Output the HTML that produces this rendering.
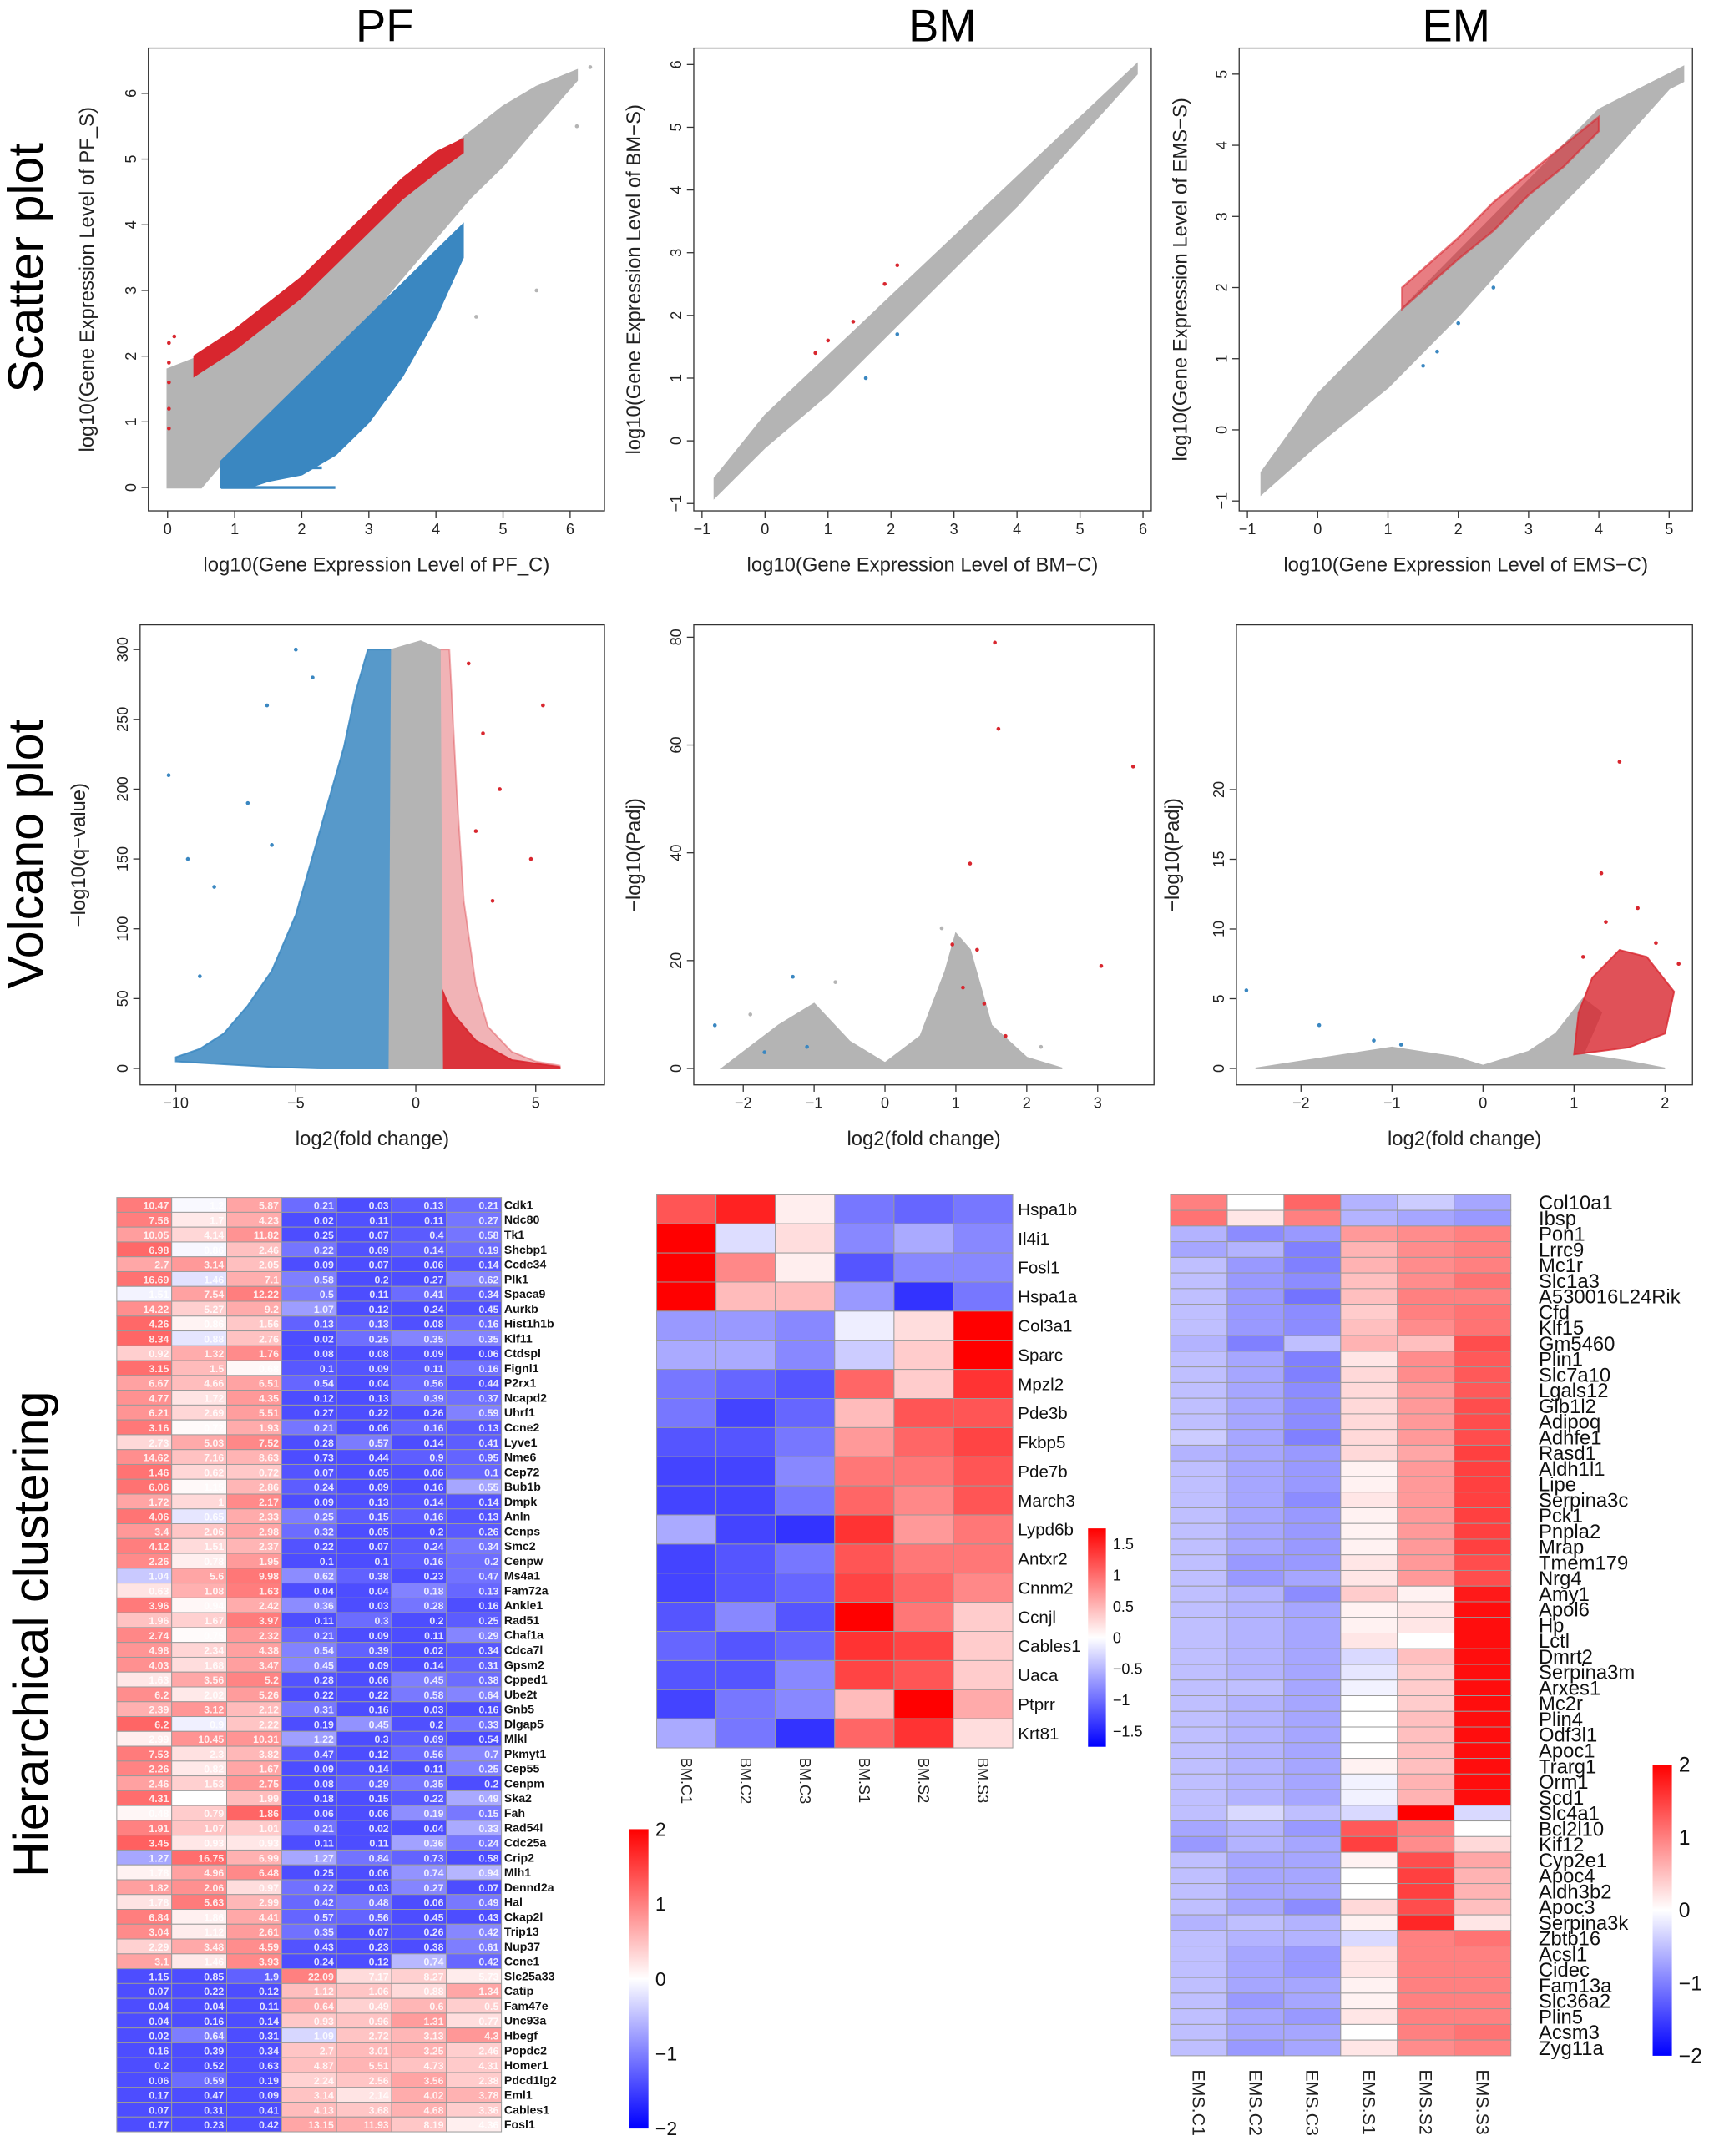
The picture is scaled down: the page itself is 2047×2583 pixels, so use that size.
<!DOCTYPE html>
<html><head><meta charset="utf-8"><title>Gene expression figure</title>
<style>
html,body{margin:0;padding:0;background:#fff;}
svg{display:block;font-family:"Liberation Sans",Arial,sans-serif;}
</style></head>
<body>
<svg id="fig" xmlns="http://www.w3.org/2000/svg" width="2047" height="2583" viewBox="0 0 1244 1570" preserveAspectRatio="none">
<text x="280" y="30" font-size="33" text-anchor="middle">PF</text>
<text x="686" y="30" font-size="33" text-anchor="middle">BM</text>
<text x="1060" y="30" font-size="33" text-anchor="middle">EM</text>
<text transform="translate(31,195) rotate(-90)" font-size="36" text-anchor="middle">Scatter plot</text>
<text transform="translate(31,622) rotate(-90)" font-size="36" text-anchor="middle">Volcano plot</text>
<text transform="translate(35,1190) rotate(-90)" font-size="36" text-anchor="middle">Hierarchical clustering</text>
<g id="root"></g>
</svg>
<script>
// ---------- DATA: scatter plots ----------
const pfScX=[0,0.5,1,1.5,2,2.5,3,3.5,4,4.5,5,5.5,6.1];
const pfScGrayHi=[1.8,2.0,2.3,2.7,3.1,3.6,4.1,4.6,5.0,5.4,5.8,6.1,6.35];
const pfScGrayLo=[0,0,0.6,1.0,1.5,2.0,2.6,3.2,3.8,4.4,4.9,5.5,6.2];
const pfScRedX=[0.4,1,1.5,2,2.5,3,3.5,4,4.4];
const pfScRedHi=[2.0,2.4,2.8,3.2,3.7,4.2,4.7,5.1,5.3];
const pfScRedLo=[1.7,2.1,2.5,2.9,3.4,3.9,4.4,4.8,5.1];
const pfScBlueX=[0.8,1.2,1.5,2,2.5,3,3.5,4,4.4];
const pfScBlueHi=[0.4,0.8,1.1,1.6,2.1,2.6,3.1,3.6,4.0];
const pfScBlueLo=[0,0,0.1,0.2,0.5,1.0,1.7,2.6,3.5];
const pfScBlueStripY=[0,0.3];
const pfScBlueStripX0=[0.8,1.0];
const pfScBlueStripX1=[2.5,2.3];
const pfScRedPts=[[0.02,2.2],[0.02,1.9],[0.02,1.6],[0.02,1.2],[0.02,0.9],[0.1,2.3]];
const pfScGrayPts=[[6.3,6.4],[5.5,3.0],[4.6,2.6],[6.1,5.5],[0.05,0.05]];

const bmScX=[-0.8,0,1,2,3,4,5,5.9];
const bmScHi=[-0.6,0.4,1.35,2.3,3.25,4.2,5.15,6.0];
const bmScLo=[-0.9,-0.1,0.75,1.75,2.75,3.75,4.85,5.85];
const bmScRedPts=[[1.0,1.6],[1.4,1.9],[1.9,2.5],[2.1,2.8],[0.8,1.4]];
const bmScBluePts=[[1.6,1.0],[2.1,1.7]];

const emScX=[-0.8,0,1,2,3,4,5,5.2];
const emScHi=[-0.6,0.5,1.5,2.5,3.5,4.5,5.0,5.1];
const emScLo=[-0.9,-0.2,0.6,1.6,2.7,3.7,4.8,4.9];
const emScRedX=[1.2,2,2.5,3,3.5,4];
const emScRedHi=[2.0,2.7,3.2,3.6,4.0,4.4];
const emScRedLo=[1.7,2.4,2.8,3.3,3.7,4.2];
const emScBluePts=[[1.5,0.9],[2,1.5],[2.5,2.0],[1.7,1.1]];

// ---------- DATA: volcano plots ----------
const pfVoBlue=[[-1,300],[-2,300],[-2.5,270],[-3,230],[-4,170],[-5,110],[-6,70],[-7,45],[-8,25],[-9,14],[-10,8],[-10,5],[-8,3],[-6,1],[-4,0],[-1,0]];
const pfVoGray=[[-1.1,0],[-1,300],[0.2,306],[1,300],[1.1,0]];
const pfVoRed=[[1,0],[1,300],[1.4,300],[1.7,200],[2,120],[2.5,60],[3,30],[4,12],[5,5],[6,2],[6,0]];
const pfVoRedDense=[[1,0],[1,60],[1.5,40],[2.5,20],[4,6],[6,1],[6,0]];
const pfVoBluePts=[[-10.3,210],[-9.5,150],[-8.4,130],[-7,190],[-6.2,260],[-5,300],[-4.3,280],[-9,66],[-6,160]];
const pfVoRedPts=[[2.2,290],[2.8,240],[3.5,200],[4.8,150],[5.3,260],[2.5,170],[3.2,120]];

const bmVoGray=[[-2.3,0],[-1.5,8],[-1,12],[-0.5,5],[0,1],[0.5,6],[0.85,18],[1,25],[1.2,22],[1.5,8],[2,2],[2.5,0]];
const bmVoRedPts=[[1.55,79],[1.6,63],[3.5,56],[1.2,38],[3.05,19],[1.3,22],[0.95,23],[1.1,15],[1.4,12],[1.7,6]];
const bmVoBluePts=[[-1.3,17],[-2.4,8],[-1.7,3],[-1.1,4]];
const bmVoGrayPts=[[-0.7,16],[-1.9,10],[2.2,4],[0.8,26]];

const emVoGray=[[-2.5,0],[-2,0.5],[-1,1.5],[-0.3,0.8],[0,0.2],[0.5,1.2],[0.8,2.5],[1.1,5],[1.3,4],[1.1,1],[1.6,0.5],[2,0]];
const emVoRed=[[1,1],[1.05,4],[1.2,6.5],[1.5,8.5],[1.8,8],[2.1,5.5],[2.0,2.5],[1.6,1.5]];
const emVoRedPts=[[1.5,22],[1.3,14],[1.35,10.5],[1.7,11.5],[1.9,9],[2.15,7.5],[1.1,8]];
const emVoBluePts=[[-2.6,5.6],[-1.8,3.1],[-1.2,2],[-0.9,1.7]];

// ---------- DATA: PF heatmap ----------
const pfGenes=["Cdk1","Ndc80","Tk1","Shcbp1","Ccdc34","Plk1","Spaca9","Aurkb","Hist1h1b","Kif11","Ctdspl","Fignl1","P2rx1","Ncapd2","Uhrf1","Ccne2","Lyve1","Nme6","Cep72","Bub1b","Dmpk","Anln","Cenps","Smc2","Cenpw","Ms4a1","Fam72a","Ankle1","Rad51","Chaf1a","Cdca7l","Gpsm2","Cpped1","Ube2t","Gnb5","Dlgap5","Mlkl","Pkmyt1","Cep55","Cenpm","Ska2","Fah","Rad54l","Cdc25a","Crip2","Mlh1","Dennd2a","Hal","Ckap2l","Trip13","Nup37","Ccne1","Slc25a33","Catip","Fam47e","Unc93a","Hbegf","Popdc2","Homer1","Pdcd1lg2","Eml1","Cables1","Fosl1"];
const pfValues=[
[10.47,1.2,5.87,0.21,0.03,0.13,0.21],[7.56,1.7,4.23,0.02,0.11,0.11,0.27],[10.05,4.14,11.82,0.25,0.07,0.4,0.58],[6.98,0.86,2.46,0.22,0.09,0.14,0.19],[2.7,3.14,2.05,0.09,0.07,0.06,0.14],[16.69,1.46,7.1,0.58,0.2,0.27,0.62],[1.51,7.54,12.22,0.5,0.11,0.41,0.34],[14.22,5.27,9.2,1.07,0.12,0.24,0.45],[4.26,0.86,1.56,0.13,0.13,0.08,0.16],[8.34,0.88,2.76,0.02,0.25,0.35,0.35],
[0.92,1.32,1.76,0.08,0.08,0.09,0.06],[3.15,1.5,0.68,0.1,0.09,0.11,0.16],[6.67,4.66,6.51,0.54,0.04,0.56,0.44],[4.77,1.72,4.35,0.12,0.13,0.39,0.37],[6.21,2.69,5.51,0.27,0.22,0.26,0.59],[3.16,0.72,1.93,0.21,0.06,0.16,0.13],[2.73,5.03,7.52,0.28,0.57,0.14,0.41],[14.62,7.16,8.63,0.73,0.44,0.9,0.95],[1.46,0.62,0.72,0.07,0.05,0.06,0.1],[6.06,1.15,2.86,0.24,0.09,0.16,0.55],
[1.72,1,2.17,0.09,0.13,0.14,0.14],[4.06,0.65,2.33,0.25,0.15,0.16,0.13],[3.4,2.06,2.98,0.32,0.05,0.2,0.26],[4.12,1.51,2.37,0.22,0.07,0.24,0.34],[2.26,0.78,1.95,0.1,0.1,0.16,0.2],[1.04,5.6,9.98,0.62,0.38,0.23,0.47],[0.63,1.08,1.63,0.04,0.04,0.18,0.13],[3.96,0.94,2.42,0.36,0.03,0.28,0.16],[1.96,1.67,3.97,0.11,0.3,0.2,0.25],[2.74,0.75,2.32,0.21,0.09,0.11,0.29],
[4.98,2.34,4.38,0.54,0.39,0.02,0.34],[4.03,1.68,3.47,0.45,0.09,0.14,0.31],[1.63,3.56,5.2,0.28,0.06,0.45,0.38],[6.2,2.02,5.26,0.22,0.22,0.58,0.64],[2.39,3.12,2.12,0.31,0.16,0.03,0.16],[6.2,0.9,2.22,0.19,0.45,0.2,0.33],[2.99,10.45,10.31,1.22,0.3,0.69,0.54],[7.53,2.3,3.82,0.47,0.12,0.56,0.7],[2.26,0.82,1.67,0.09,0.14,0.11,0.25],[2.46,1.53,2.75,0.08,0.29,0.35,0.2],
[4.31,0.85,1.99,0.18,0.15,0.22,0.49],[0.48,0.79,1.86,0.06,0.06,0.19,0.15],[1.91,1.07,1.01,0.21,0.02,0.04,0.33],[3.45,0.93,0.93,0.11,0.11,0.36,0.24],[1.27,16.75,6.99,1.27,0.84,0.73,0.58],[1.78,4.96,6.48,0.25,0.06,0.74,0.94],[1.82,2.06,0.97,0.22,0.03,0.27,0.07],[1.78,5.63,2.99,0.42,0.48,0.06,0.49],[6.84,1.86,4.41,0.57,0.56,0.45,0.43],[3.04,1.12,2.61,0.35,0.07,0.26,0.42],
[2.29,3.48,4.59,0.43,0.23,0.38,0.61],[3.1,1.46,3.93,0.24,0.12,0.74,0.42],[1.15,0.85,1.9,22.09,7.17,8.27,5.73],[0.07,0.22,0.12,1.12,1.06,0.88,1.34],[0.04,0.04,0.11,0.64,0.49,0.6,0.5],[0.04,0.16,0.14,0.93,0.96,1.31,0.77],[0.02,0.64,0.31,1.09,2.72,3.13,4.3],[0.16,0.39,0.34,2.7,3.01,3.25,2.46],[0.2,0.52,0.63,4.87,5.51,4.73,4.31],[0.06,0.59,0.19,2.24,2.56,3.56,2.38],
[0.17,0.47,0.09,3.14,2.14,4.02,3.78],[0.07,0.31,0.41,4.13,3.68,4.68,3.36],[0.77,0.23,0.42,13.15,11.93,8.19,4.36]];
const pfScaleTicks=[2,1,0,-1,-2];

// ---------- DATA: BM heatmap ----------
const bmGenes=["Hspa1b","Il4i1","Fosl1","Hspa1a","Col3a1","Sparc","Mpzl2","Pde3b","Fkbp5","Pde7b","March3","Lypd6b","Antxr2","Cnnm2","Ccnjl","Cables1","Uaca","Ptprr","Krt81"];
const bmSamples=["BM.C1","BM.C2","BM.C3","BM.S1","BM.S2","BM.S3"];
const bmZ=[[1.0,1.3,0.1,-0.8,-0.9,-0.8],[1.9,-0.2,0.2,-0.7,-0.5,-0.7],[1.6,0.7,0.1,-1.0,-0.7,-0.7],[1.6,0.4,0.4,-0.6,-1.2,-0.8],[-0.6,-0.6,-0.7,-0.1,0.2,1.9],[-0.5,-0.5,-0.7,-0.3,0.3,1.9],[-0.8,-0.9,-1.0,0.9,0.3,1.2],[-0.8,-1.1,-0.9,0.4,1.0,1.0],[-1.0,-1.0,-0.8,0.6,0.9,1.1],[-1.1,-1.1,-0.7,0.8,0.8,1.0],[-1.1,-1.1,-0.8,0.9,0.7,1.0],[-0.5,-1.1,-1.2,1.2,0.6,0.8],[-1.1,-1.0,-0.8,1.0,0.8,0.8],[-1.1,-1.0,-0.9,1.1,0.9,0.7],[-1.0,-0.7,-1.0,1.5,0.8,0.3],[-0.9,-1.0,-0.9,1.2,1.1,0.3],[-1.0,-1.0,-0.7,1.1,1.0,0.3],[-1.1,-0.8,-0.7,0.4,1.6,0.5],[-0.5,-0.8,-1.2,0.9,1.2,0.2]];
const bmScaleTicks=[1.5,1,0.5,0,-0.5,-1,-1.5];

// ---------- DATA: EM heatmap ----------
const emGenes=["Col10a1","Ibsp","Pon1","Lrrc9","Mc1r","Slc1a3","A530016L24Rik","Cfd","Klf15","Gm5460","Plin1","Slc7a10","Lgals12","Glb1l2","Adipoq","Adhfe1","Rasd1","Aldh1l1","Lipe","Serpina3c","Pck1","Pnpla2","Mrap","Tmem179","Nrg4","Amy1","Apol6","Hp","Lctl","Dmrt2","Serpina3m","Arxes1","Mc2r","Plin4","Odf3l1","Apoc1","Trarg1","Orm1","Scd1","Slc4a1","Bcl2l10","Kif12","Cyp2e1","Apoc4","Aldh3b2","Apoc3","Serpina3k","Zbtb16","Acsl1","Cidec","Fam13a","Slc36a2","Plin5","Acsm3","Zyg11a"];
const emSamples=["EMS.C1","EMS.C2","EMS.C3","EMS.S1","EMS.S2","EMS.S3"];
const emZ=[[1.0,0.0,1.2,-0.6,-0.4,-0.7],[1.1,0.2,1.0,-0.6,-0.7,-0.8],[-0.6,-0.9,-0.8,0.8,0.9,1.0],[-0.7,-0.6,-1.0,0.6,0.9,1.0],[-0.5,-0.8,-1.0,0.6,0.9,1.0],[-0.5,-0.8,-0.9,0.5,0.9,1.1],[-0.5,-0.8,-1.1,0.5,1.0,1.0],[-0.5,-0.8,-0.9,0.4,1.0,1.1],[-0.5,-0.8,-0.9,0.5,0.9,1.1],[-0.6,-1.0,-0.5,0.6,0.5,1.4],
[-0.5,-0.7,-1.0,0.2,0.9,1.3],[-0.5,-0.7,-1.0,0.3,0.9,1.3],[-0.5,-0.7,-0.9,0.3,0.8,1.3],[-0.5,-0.7,-0.9,0.3,0.8,1.4],[-0.5,-0.7,-0.9,0.3,0.8,1.4],[-0.4,-0.7,-1.0,0.3,0.8,1.4],[-0.6,-0.7,-0.8,0.3,0.7,1.5],[-0.5,-0.7,-0.8,0.1,0.8,1.5],[-0.5,-0.7,-0.8,0.1,0.8,1.5],[-0.5,-0.7,-0.9,0.2,0.8,1.5],
[-0.5,-0.7,-0.8,0.1,0.8,1.5],[-0.5,-0.7,-0.8,0.1,0.8,1.5],[-0.5,-0.7,-0.8,0.1,0.8,1.5],[-0.5,-0.8,-0.8,0.2,0.8,1.4],[-0.5,-0.8,-0.7,0.2,0.8,1.4],[-0.5,-0.6,-0.9,0.4,0.1,1.8],[-0.5,-0.6,-0.7,0.1,0.2,1.9],[-0.5,-0.6,-0.7,0.1,0.2,1.9],[-0.5,-0.6,-0.7,0.2,0.0,1.9],[-0.5,-0.6,-0.7,-0.3,0.5,1.9],
[-0.5,-0.6,-0.7,-0.2,0.4,1.9],[-0.5,-0.5,-0.7,-0.1,0.4,1.9],[-0.5,-0.6,-0.7,0.0,0.4,1.9],[-0.5,-0.6,-0.7,0.0,0.5,1.9],[-0.5,-0.6,-0.7,0.0,0.5,1.9],[-0.5,-0.6,-0.7,0.0,0.5,1.9],[-0.5,-0.6,-0.7,0.1,0.5,1.9],[-0.5,-0.6,-0.7,-0.1,0.6,1.9],[-0.5,-0.6,-0.7,-0.1,0.6,1.9],[-0.5,-0.3,-0.5,-0.3,2.0,-0.3],
[-0.7,-0.6,-0.8,1.3,1.0,0.0],[-0.8,-0.6,-0.7,1.5,0.9,0.3],[-0.5,-0.7,-0.7,0.1,1.4,0.7],[-0.5,-0.7,-0.7,0.0,1.5,0.6],[-0.5,-0.7,-0.7,0.0,1.5,0.6],[-0.5,-0.7,-0.9,0.3,1.4,0.5],[-0.6,-0.5,-0.6,0.1,1.7,0.2],[-0.5,-0.6,-0.6,-0.3,1.0,1.1],[-0.5,-0.7,-0.8,0.2,1.0,1.0],[-0.5,-0.7,-0.8,0.2,1.0,1.0],
[-0.5,-0.7,-0.7,0.1,1.0,1.0],[-0.5,-0.8,-0.7,0.1,1.0,1.0],[-0.5,-0.7,-0.8,0.2,1.0,1.0],[-0.5,-0.7,-0.7,0.0,1.0,1.1],[-0.5,-0.8,-0.7,0.2,0.9,1.0]];
const emScaleTicks=[2,1,0,-1,-2];

// ---------- helpers ----------
const NS="http://www.w3.org/2000/svg";
const root=document.getElementById('root');
function mk(tag,attrs,parent){const el=document.createElementNS(NS,tag);for(const k in attrs)el.setAttribute(k,attrs[k]);(parent||root).appendChild(el);return el;}
function lin(d0,d1,r0,r1){return v=>r0+(v-d0)*(r1-r0)/(d1-d0);}
const GRAY="#b4b4b4",RED="#d8262e",BLUE="#3a87c1";

function makePlot(name,box,xd,xr,yd,yr,xt,yt,xlab,ylab,ylabX){
  const g=mk('g',{});
  
  
  const p={g,x:lin(xd[0],xd[1],xr[0],xr[1]),y:lin(yd[0],yd[1],yr[0],yr[1]),box};
  const fr=mk('rect',{x:box[0],y:box[1],width:box[2]-box[0],height:box[3]-box[1],fill:'none',stroke:'#333','stroke-width':0.8},g);
  
  
  xt.forEach(v=>{const X=p.x(v);
    const t=mk('line',{x1:X,x2:X,y1:box[3],y2:box[3]+5,stroke:'#333','stroke-width':0.8},g);
    
    
    const l=mk('text',{x:X,y:box[3]+17,'font-size':11,'text-anchor':'middle',fill:'#222'},g);
    
    
    l.textContent=v<0?'\u2212'+(-v):v;});
  yt.forEach(v=>{const Y=p.y(v);
    const t=mk('line',{x1:box[0]-5,x2:box[0],y1:Y,y2:Y,stroke:'#333','stroke-width':0.8},g);
    
    
    const l=mk('text',{transform:`translate(${box[0]-9},${Y}) rotate(-90)`,'font-size':11,'text-anchor':'middle',fill:'#222'},g);
    
    
    l.textContent=v<0?'\u2212'+(-v):v;});
  const xl=mk('text',{x:(box[0]+box[2])/2,y:box[3]+44,'font-size':14.5,'text-anchor':'middle',fill:'#222'},g);
  
  
  xl.textContent=xlab;
  const yl=mk('text',{transform:`translate(${ylabX},${(box[1]+box[3])/2}) rotate(-90)`,'font-size':14.5,'text-anchor':'middle',fill:'#222'},g);
  
  
  yl.textContent=ylab;
  return p;
}
function band(p,xs,lo,hi,color,op,name){
  const pts=xs.map((x,i)=>p.x(x)+','+p.y(hi[i])).concat(xs.map((x,i)=>p.x(x)+','+p.y(lo[i])).reverse());
  const el=mk('polygon',{points:pts.join(' '),fill:color,'fill-opacity':op,stroke:color,'stroke-width':1.5,'stroke-opacity':op},p.g);
  
  
}
function poly(p,pts,color,op,name){
  const el=mk('polygon',{points:pts.map(q=>p.x(q[0])+','+p.y(q[1])).join(' '),fill:color,'fill-opacity':op,stroke:color,'stroke-width':1.2,'stroke-opacity':op},p.g);
  
  
}
function dots(p,pts,color,name){
  pts.forEach(q=>{const c=mk('circle',{cx:p.x(q[0]),cy:p.y(q[1]),r:1.4,fill:color},p.g);
    
    });
}

// ---------- scatter plots ----------
const sPF=makePlot('scatter-pf',[108,35,440,372],[0,6],[122,415],[0,6],[355,68],[0,1,2,3,4,5,6],[0,1,2,3,4,5,6],'log10(Gene Expression Level of PF_C)','log10(Gene Expression Level of PF_S)',68);
band(sPF,pfScX,pfScGrayLo,pfScGrayHi,GRAY,1,'gray-cloud');
band(sPF,pfScRedX,pfScRedLo,pfScRedHi,RED,1,'up-regulated-cloud');
band(sPF,pfScBlueX,pfScBlueLo,pfScBlueHi,BLUE,1,'down-regulated-cloud');
pfScBlueStripY.forEach((y,i)=>{const l=mk('line',{x1:sPF.x(pfScBlueStripX0[i]),x2:sPF.x(pfScBlueStripX1[i]),y1:sPF.y(y),y2:sPF.y(y),stroke:BLUE,'stroke-width':2},sPF.g);
  
  });
dots(sPF,pfScRedPts,RED,'up-point');
dots(sPF,pfScGrayPts,GRAY,'gray-point');

const sBM=makePlot('scatter-bm',[505,35,838,372],[-1,6],[511,832],[0,6],[321,47],[-1,0,1,2,3,4,5,6],[-1,0,1,2,3,4,5,6],'log10(Gene Expression Level of BM\u2212C)','log10(Gene Expression Level of BM\u2212S)',466);
band(sBM,bmScX,bmScLo,bmScHi,GRAY,1,'gray-cloud');
dots(sBM,bmScRedPts,RED,'up-point');
dots(sBM,bmScBluePts,BLUE,'down-point');

const sEM=makePlot('scatter-em',[902,35,1232,372],[-1,5],[908,1215],[0,5],[313,54],[-1,0,1,2,3,4,5],[-1,0,1,2,3,4,5],'log10(Gene Expression Level of EMS\u2212C)','log10(Gene Expression Level of EMS\u2212S)',864);
band(sEM,emScX,emScLo,emScHi,GRAY,1,'gray-cloud');
band(sEM,emScRedX,emScRedLo,emScRedHi,RED,0.6,'up-regulated-cloud');
dots(sEM,emScBluePts,BLUE,'down-point');

// ---------- volcano plots ----------
const vPF=makePlot('volcano-pf',[102,455,440,790],[-10,5],[128,390],[0,300],[778,473],[-10,-5,0,5],[0,50,100,150,200,250,300],'log2(fold change)','\u2212log10(q\u2212value)',62);
poly(vPF,pfVoBlue,BLUE,0.85,'down-regulated-cloud');
poly(vPF,pfVoRed,RED,0.35,'up-regulated-cloud');
poly(vPF,pfVoRedDense,RED,0.9,'up-regulated-dense');
poly(vPF,pfVoGray,GRAY,1,'not-significant-cloud');
dots(vPF,pfVoBluePts,BLUE,'down-point');
dots(vPF,pfVoRedPts,RED,'up-point');

const vBM=makePlot('volcano-bm',[505,455,840,790],[-2,3],[541,799],[0,80],[778,464],[-2,-1,0,1,2,3],[0,20,40,60,80],'log2(fold change)','\u2212log10(Padj)',466);
poly(vBM,bmVoGray,GRAY,1,'not-significant-cloud');
dots(vBM,bmVoGrayPts,GRAY,'gray-point');
dots(vBM,bmVoRedPts,RED,'up-point');
dots(vBM,bmVoBluePts,BLUE,'down-point');

const vEM=makePlot('volcano-em',[900,455,1232,790],[-2,2],[947,1212],[0,20],[778,575],[-2,-1,0,1,2],[0,5,10,15,20],'log2(fold change)','\u2212log10(Padj)',858);
poly(vEM,emVoGray,GRAY,1,'not-significant-cloud');
poly(vEM,emVoRed,RED,0.8,'up-regulated-cloud');
dots(vEM,emVoRedPts,RED,'up-point');
dots(vEM,emVoBluePts,BLUE,'down-point');

// ---------- heatmaps ----------
function colZ(z,maxR,maxB,capB){
  if(z>=0){const t=Math.min(1,z/maxR);const c=Math.round(255*(1-t));return `rgb(255,${c},${c})`;}
  const t=Math.min(capB,-z/maxB);const c=Math.round(255*(1-t));return `rgb(${c},${c},255)`;
}
function rowZ(vals){
  const l=vals.map(v=>Math.log2(v+1));const m=l.reduce((a,b)=>a+b,0)/l.length;
  const sd=Math.sqrt(l.reduce((a,b)=>a+(b-m)*(b-m),0)/(l.length-1))||1;return l.map(v=>(v-m)/sd);
}
function heat(name,x0,y0,cw,rh,genes,zs,maxR,maxB,capB,labX,labSize,bold,values){
  const g=mk('g',{});
  
  
  zs.forEach((row,i)=>{row.forEach((z,j)=>{
    const r=mk('rect',{x:x0+j*cw,y:y0+i*rh,width:cw,height:rh,fill:colZ(z,maxR,maxB,capB),stroke:'#9a9a9a','stroke-width':0.6},g);
    
    
    if(values){const t=mk('text',{x:x0+(j+1)*cw-2,y:y0+i*rh+rh*0.78,'font-size':7.5,'font-weight':'bold','text-anchor':'end',fill:'#fff','fill-opacity':0.85},g);
      
      
      t.textContent=values[i][j];}
  });
  const l=mk('text',{x:labX,y:y0+i*rh+rh/2+labSize*0.35,'font-size':labSize,'font-weight':bold?'bold':'normal',fill:'#111'},g);
  
  
  l.textContent=genes[i];});
  return g;
}
function colLabels(x0,cw,y,samples,size){
  samples.forEach((s,j)=>{const t=mk('text',{transform:`translate(${x0+j*cw+cw/2-size*0.35},${y}) rotate(90)`,'font-size':size,fill:'#222'});
    
    
    t.textContent=s;});
}
function colorbar(name,x,y0,y1,w,ticks,maxv,labSize){
  const id='grad-'+name;
  const defs=mk('defs',{});
  const lg=mk('linearGradient',{id:id,x1:0,y1:0,x2:0,y2:1},defs);
  mk('stop',{offset:'0%','stop-color':'#ff0000'},lg);
  mk('stop',{offset:'50%','stop-color':'#ffffff'},lg);
  mk('stop',{offset:'100%','stop-color':'#0000ff'},lg);
  const r=mk('rect',{x:x,y:y0,width:w,height:y1-y0,fill:`url(#${id})`});
  
  
  const sy=lin(maxv,-maxv,y0,y1);
  ticks.forEach(v=>{const t=mk('text',{x:x+w+5,y:sy(v)+labSize*0.35,'font-size':labSize,fill:'#111'});
    
    
    t.textContent=v<0?'\u2212'+(-v):v;});
}

heat('heatmap-pf',85,872,40,10.8,pfGenes,pfValues.map(rowZ),3.2,1.1,0.7,367,8.6,true,pfValues);
colorbar('colorbar-pf',458,1332,1550,14,pfScaleTicks,2,14);

heat('heatmap-bm',478,870,43.2,21.2,bmGenes,bmZ,1.5,1.5,1,741,12.5,false,null);
colLabels(478,43.2,1280,bmSamples,11);
colorbar('colorbar-bm',792,1113,1272,13,bmScaleTicks,1.75,11);

heat('heatmap-em',852,870,41.3,11.4,emGenes,emZ,2,2,1,1120,14.5,false,null);
colLabels(852,41.3,1507,emSamples,13);
colorbar('colorbar-em',1203,1285,1497,14,emScaleTicks,2,15);
</script>
</body></html>
